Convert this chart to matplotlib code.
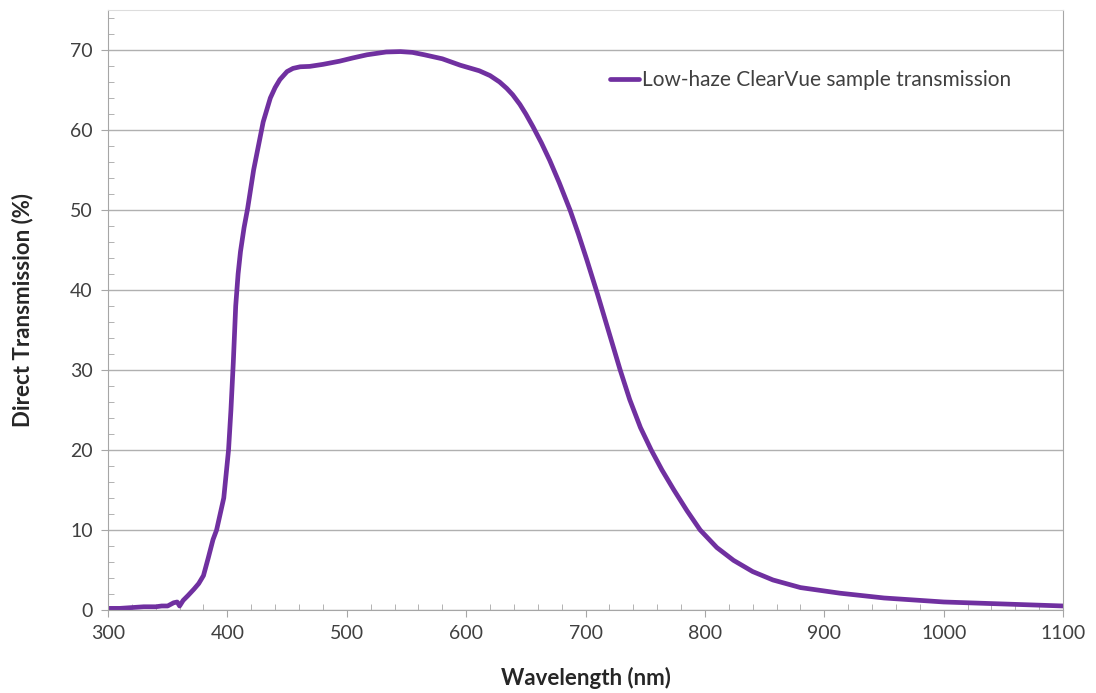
import matplotlib.pyplot as plt
from matplotlib.ticker import MultipleLocator

plt.rcParams['font.family'] = ['Lato', 'DejaVu Sans']

wavelength = [300, 310, 320, 330, 340, 345, 350, 355, 358, 360, 363, 367, 372, 376, 380, 384,
              388, 391, 394, 397, 399, 401, 403, 405, 407, 409, 411, 414, 417, 422, 426, 430, 436,
              440, 444, 450, 455, 461, 469, 480, 494, 505, 517, 533, 545, 555, 565, 580,
              595, 611, 620, 628, 634, 639, 645, 650, 656, 663, 670, 678, 687, 694, 701,
              710, 720, 729, 737, 746, 755, 764, 774, 785, 796, 810, 824, 840, 857, 880,
              913, 950, 1000, 1050, 1100]
transmission = [0.2, 0.2, 0.3, 0.4, 0.4, 0.5, 0.5, 0.9, 1.0, 0.5, 1.2, 1.8, 2.6, 3.3, 4.3, 6.5,
                8.8, 10.0, 12.0, 14.0, 17.0, 20.0, 25.0, 31.0, 38.0, 42.0, 44.8, 47.8, 50.2, 55.0, 58.0, 61.0, 64.0,
                65.3, 66.3, 67.3, 67.7, 67.9, 67.95, 68.2, 68.6, 69.0, 69.4, 69.75, 69.8, 69.7, 69.4, 68.9,
                68.1, 67.4, 66.8, 66.0, 65.2, 64.4, 63.2, 62.0, 60.4, 58.4, 56.2, 53.4, 50.0, 47.0, 43.8,
                39.5, 34.5, 30.0, 26.3, 22.8, 20.0, 17.5, 15.0, 12.4, 10.0, 7.8, 6.2, 4.8, 3.75, 2.8,
                2.1, 1.5, 1.0, 0.75, 0.5]

purple = '#7030A0'
grey = '#a6a6a6'

fig = plt.figure(figsize=(10.96, 6.93), dpi=100)
ax = fig.add_axes([0.0985, 0.1198, 0.8715, 0.8658])

ax.plot(wavelength, transmission, color=purple, linewidth=3.4,
        label='Low-haze ClearVue sample transmission',
        solid_capstyle='round', solid_joinstyle='round')

ax.set_xlim(300, 1100)
ax.set_ylim(0, 75)
ax.xaxis.set_major_locator(MultipleLocator(100))
ax.xaxis.set_minor_locator(MultipleLocator(20))
ax.yaxis.set_minor_locator(MultipleLocator(2))
ax.set_yticks(range(0, 71, 10))

ax.grid(axis='y', which='major', color='#b0b0b0', linewidth=1)
ax.set_axisbelow(True)

for side in ['left', 'bottom', 'right']:
    ax.spines[side].set_color(grey)
ax.spines['top'].set_color('#dddddd')

ax.tick_params(which='major', direction='out', length=5, color=grey,
               labelsize=14, labelcolor='#404040', pad=6)
ax.tick_params(which='minor', direction='in', length=4, color=grey)

ax.set_xlabel('Wavelength (nm)', fontsize=16, fontweight='bold', color='#262626', labelpad=18)
ax.set_ylabel('Direct Transmission (%)', fontsize=16, fontweight='bold', color='#262626', labelpad=26)

ax.legend(loc='center right', bbox_to_anchor=(0.965, 0.883), frameon=False, fontsize=15,
          handlelength=1.4, handletextpad=0.15, labelcolor='#404040')

fig.savefig('out.png', dpi=100)
